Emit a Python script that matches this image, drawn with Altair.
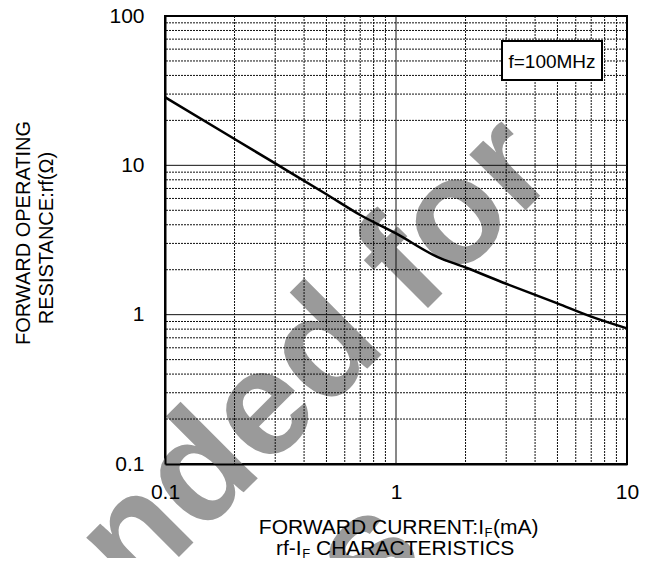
import altair as alt
import pandas as pd

# ---- data ----
current_mA = [0.1, 0.2, 0.3, 0.5, 0.7, 1.0, 1.5, 2.0, 3.0, 5.0, 7.0, 10.0]
resistance_ohm = [28.6, 15.0, 10.3, 6.4, 4.65, 3.5, 2.45, 2.07, 1.61, 1.19, 0.97, 0.81]

x_ticks = [0.1, 1, 10]
y_ticks = [0.1, 1, 10, 100]
x_minor = [0.2, 0.3, 0.4, 0.5, 0.6, 0.7, 0.8, 0.9, 2, 3, 4, 5, 6, 7, 8, 9]
x_major = [1]
y_minor = [0.2, 0.3, 0.4, 0.5, 0.6, 0.7, 0.8, 0.9,
           2, 3, 4, 5, 6, 7, 8, 9,
           20, 30, 40, 50, 60, 70, 80, 90]
y_major = [1, 10]

legend_text = ["f=100MHz"]
x_title_1 = ["FORWARD CURRENT:I", "F", "(mA)"]
x_title_2 = ["rf-I", "F", "CHARACTERISTICS"]
y_title = ["FORWARD OPERATING", "RESISTANCE:rf(\u03a9)"]
watermark = ["Not Recommended for", "New Designs"]

W, H = 462, 448
FONT = "Liberation Sans"

xs = alt.Scale(type="log", domain=[0.1, 10], nice=False)
ys = alt.Scale(type="log", domain=[0.1, 100], nice=False)

axis_common = dict(grid=False, ticks=False, tickSize=0, domain=True,
                   domainColor="black", domainWidth=2, labelFontSize=21,
                   labelFont=FONT, labelColor="black", title=None, zindex=1,
                   labelFlush=False, labelOverlap=False, format="~g")
x_axis = alt.Axis(values=x_ticks, labelPadding=17, **axis_common)
y_axis = alt.Axis(values=y_ticks, labelPadding=21, **axis_common)


def X(field):
    return alt.X(f"{field}:Q", scale=xs, axis=x_axis, title=None)


def Y(field):
    return alt.Y(f"{field}:Q", scale=ys, axis=y_axis, title=None)


def txt(s, x, y, size=21, align="left", baseline="alphabetic", angle=0,
        weight="normal", color="black", font=FONT):
    kw = dict(align=align, baseline=baseline, fontSize=size, font=font,
              fontWeight=weight, color=color)
    if angle:
        kw["angle"] = angle
    return alt.Chart(pd.DataFrame({"t": [s]})).mark_text(**kw).encode(
        x=alt.value(x), y=alt.value(y), text="t:N")


# watermark (behind everything)
wm1 = txt(watermark[0], 394.5, 160.5, size=150, align="right", angle=315,
          weight="bold", color="#9a9a9a")
wm2 = txt(watermark[1], 264, 540, size=150, align="right", angle=315,
          weight="bold", color="#9a9a9a")

# grid
vminor = alt.Chart(pd.DataFrame({"current": x_minor})).mark_rule(
    color="#111", strokeWidth=1, strokeDash=[2, 1]).encode(x=X("current"))
vmajor = alt.Chart(pd.DataFrame({"current": x_major})).mark_rule(
    color="#111", strokeWidth=1).encode(x=X("current"))
hminor = alt.Chart(pd.DataFrame({"rf": y_minor})).mark_rule(
    color="#111", strokeWidth=1, strokeDash=[2, 1]).encode(y=Y("rf"))
hmajor = alt.Chart(pd.DataFrame({"rf": y_major})).mark_rule(
    color="#111", strokeWidth=1).encode(y=Y("rf"))

curve = alt.Chart(pd.DataFrame({"current": current_mA, "rf": resistance_ohm})).mark_line(
    color="black", strokeWidth=2.5, interpolate="monotone").encode(
    x=X("current"), y=Y("rf"))

# legend box
box = alt.Chart(pd.DataFrame({"t": legend_text})).mark_rect(
    fill="white", stroke="black", strokeWidth=2).encode(
    x=alt.value(337), x2=alt.value(437), y=alt.value(25), y2=alt.value(64))
box_text = txt(legend_text[0], 387, 46, size=19, align="center",
               baseline="middle")

# axis titles (subscript F drawn smaller and lower)
xt1a = txt(x_title_1[0], 319, 518, align="right")
xt1b = txt(x_title_1[1], 319.5, 521, size=13)
xt1c = txt(x_title_1[2], 328, 518)
xt2a = txt(x_title_2[0], 136.7, 539, align="right")
xt2b = txt(x_title_2[1], 137.2, 542, size=13)
xt2c = txt(x_title_2[2], 151, 539)
yt1 = txt(y_title[0], -141, 217, size=20, align="center", baseline="middle",
          angle=270)
yt2 = txt(y_title[1], -118, 222, size=20, align="center", baseline="middle",
          angle=270)

chart = alt.layer(
    wm1, wm2, vminor, hminor, vmajor, hmajor, curve, box, box_text,
    xt1a, xt1b, xt1c, xt2a, xt2b, xt2c, yt1, yt2,
).properties(
    width=W, height=H,
    padding={"left": 157, "top": 8, "right": 25, "bottom": 94},
    autosize=alt.AutoSizeParams(type="none"),
).configure_view(
    stroke="black", strokeWidth=2
)

chart.save("out.html", embed_options={"renderer": "svg", "actions": False})
